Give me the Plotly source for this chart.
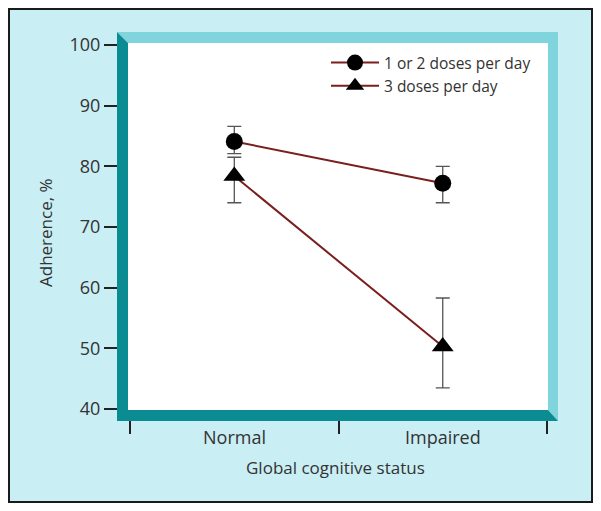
import plotly.graph_objects as go

# data
categories = ["Normal", "Impaired"]
low_dose = [84.1, 77.2]            # 1 or 2 doses per day
low_dose_up = [2.5, 2.8]
low_dose_down = [2.0, 3.2]
high_dose = [78.4, 50.3]           # 3 doses per day
high_dose_up = [3.1, 8.0]
high_dose_down = [4.4, 6.8]
y_ticks = [40, 50, 60, 70, 80, 90, 100]

FONT = "Open Sans"
TXT = "#333333"
LINE_RED = "#7a1e1e"
ERR = "#555555"
DARK_TEAL = "#0b8c93"
LIGHT_TEAL = "#7fd5db"
BG = "#c9eef4"

# plot area in pixels
PL, PR, PT, PB = 128, 548, 43, 410
W, H = 601, 511

def px(x):
    return (x - PL) / (PR - PL)

def py(y):
    return (PB - y) / (PB - PT)

def path(points):
    return "M " + " L ".join(f"{px(a)},{py(b)}" for a, b in points) + " Z"

fig = go.Figure()

fig.add_trace(go.Scatter(
    x=categories, y=low_dose, name="1 or 2 doses per day", mode="lines+markers",
    line=dict(color=LINE_RED, width=2),
    marker=dict(symbol="circle", size=17, color="black"),
    error_y=dict(type="data", symmetric=False, array=low_dose_up, arrayminus=low_dose_down,
                 color=ERR, thickness=1.3, width=7),
))
fig.add_trace(go.Scatter(
    x=categories, y=high_dose, name="3 doses per day", mode="lines+markers",
    line=dict(color=LINE_RED, width=2),
    marker=dict(symbol="triangle-up", size=19, color="black"),
    error_y=dict(type="data", symmetric=False, array=high_dose_up, arrayminus=high_dose_down,
                 color=ERR, thickness=1.3, width=7),
))

shapes = [
    # light cyan panel with black border
    dict(type="rect", xref="paper", yref="paper", layer="below",
         x0=px(9), x1=px(592), y0=py(9), y1=py(502),
         fillcolor=BG, line=dict(color="#1a1a1a", width=2)),
    # white plot area
    dict(type="rect", xref="paper", yref="paper", layer="below",
         x0=px(128), x1=px(548), y0=py(43), y1=py(410),
         fillcolor="white", line=dict(width=0)),
    # light top/right frame
    dict(type="path", xref="paper", yref="paper", layer="above",
         path=path([(117, 32), (558, 32), (558, 421), (548, 410), (548, 43), (128, 43)]),
         fillcolor=LIGHT_TEAL, line=dict(width=0)),
    # dark left/bottom frame
    dict(type="path", xref="paper", yref="paper", layer="above",
         path=path([(117, 32), (128, 43), (128, 410), (548, 410), (558, 421), (117, 421)]),
         fillcolor=DARK_TEAL, line=dict(width=0)),
]

annotations = [
    dict(text="Adherence, %", xref="paper", yref="paper", x=px(45), y=py(233),
         xanchor="center", yanchor="middle",
         textangle=-90, showarrow=False, font=dict(family=FONT, size=17, color=TXT)),
    dict(text="Global cognitive status", xref="paper", yref="paper", x=px(335), y=py(468),
         xanchor="center", yanchor="middle",
         showarrow=False, font=dict(family=FONT, size=17, color=TXT)),
]
for c in categories:
    annotations.append(dict(text=c, xref="x", yref="paper", x=c, y=py(437),
                            xanchor="center", yanchor="middle",
                            showarrow=False, font=dict(family=FONT, size=18, color=TXT)))

fig.update_layout(
    width=W, height=H,
    margin=dict(l=PL, r=W - PR, t=PT, b=H - PB, pad=0),
    paper_bgcolor="white", plot_bgcolor="rgba(0,0,0,0)",
    font=dict(family=FONT, size=17, color=TXT),
    shapes=shapes, annotations=annotations,
    showlegend=True,
    legend=dict(x=px(326), y=py(46), xanchor="left", yanchor="top",
                bgcolor="rgba(0,0,0,0)", font=dict(family=FONT, size=15.5, color=TXT),
                tracegroupgap=0, itemwidth=48),
)
fig.update_xaxes(type="category", range=[-0.51, 1.505], tickson="boundaries",
                 showticklabels=False, ticks="outside", ticklen=23, tickwidth=2,
                 tickcolor="#222222", showgrid=False, zeroline=False, showline=False)
fig.update_yaxes(range=[39.84, 100.33], tickvals=y_ticks, ticks="outside", ticklen=23,
                 tickwidth=2, tickcolor="#222222", showgrid=False, zeroline=False,
                 showline=False, tickfont=dict(family=FONT, size=18, color=TXT))

fig.write_html("out.html", config={"displayModeBar": False},
               post_script="document.body.style.margin='0';")
